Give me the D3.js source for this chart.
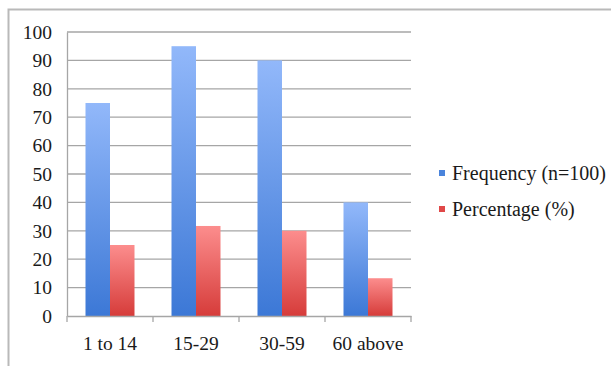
<!DOCTYPE html>
<html><head><meta charset="utf-8">
<script src="https://cdn.jsdelivr.net/npm/d3@7"></script>
<style>body{margin:0;background:#fff;} svg{display:block;}</style>
</head><body>
<svg id="c" width="611" height="366"></svg>
<script>
const categories = ["1 to 14", "15-29", "30-59", "60 above"];
const frequency = [75, 95, 90, 40];
const percentage = [25, 31.7, 30, 13.3];
const seriesNames = ["Frequency (n=100)", "Percentage (%)"];
const yTicks = [0,10,20,30,40,50,60,70,80,90,100];

const svg = d3.select("#c");
const font = "'Liberation Serif', serif";
const L = 67, R = 411, T = 32, B = 316;

// frame
svg.append("path").attr("d", "M8.5,366 V9.5 H611").attr("fill","none").attr("stroke","#b9b9b9").attr("stroke-width",2);

const defs = svg.append("defs");
const gb = defs.append("linearGradient").attr("id","gb").attr("x1",0).attr("y1",0).attr("x2",0).attr("y2",1);
gb.append("stop").attr("offset","0%").attr("stop-color","#92b8fa");
gb.append("stop").attr("offset","100%").attr("stop-color","#3c78d6");
const gr = defs.append("linearGradient").attr("id","gr").attr("x1",0).attr("y1",0).attr("x2",0).attr("y2",1);
gr.append("stop").attr("offset","0%").attr("stop-color","#fc8d8d");
gr.append("stop").attr("offset","100%").attr("stop-color","#d63c3a");

const x = d3.scaleBand().domain(categories).range([L, R]);
const y = d3.scaleLinear().domain([0,100]).range([B, T]);
const bw = 24.5;

// gridlines
svg.append("g").selectAll("line").data(yTicks.filter(d=>d>0)).join("line")
  .attr("x1", L).attr("x2", R).attr("y1", d=>y(d)).attr("y2", d=>y(d))
  .attr("stroke","#a6a6a6").attr("stroke-width",1.3);

// y axis
const ya = svg.append("g").attr("transform",`translate(${L},0)`)
  .call(d3.axisLeft(y).tickValues(yTicks).tickSize(0).tickPadding(15));
ya.select(".domain").attr("stroke","#a6a6a6").attr("stroke-width",1.3);
ya.selectAll("text").attr("font-family",font).attr("font-size",19.5).attr("fill","#1a1a1a");

// bars
const colors = ["url(#gb)", "url(#gr)"];
[frequency, percentage].forEach((vals, si) => {
  svg.append("g").selectAll("rect").data(vals).join("rect")
    .attr("x", (d,i) => x(categories[i]) + x.bandwidth()/2 - bw + si*bw)
    .attr("width", bw)
    .attr("y", d => y(d))
    .attr("height", d => y(0) - y(d))
    .attr("fill", colors[si]);
});

// x axis
const xa = svg.append("g").attr("transform",`translate(0,${B})`)
  .call(d3.axisBottom(x).tickSize(0).tickPadding(20));
xa.select(".domain").attr("stroke","#a6a6a6").attr("stroke-width",1.3);
xa.selectAll("text").attr("font-family",font).attr("font-size",19.5).attr("fill","#1a1a1a");
const bounds = [L].concat(categories.map(c => x(c) + x.bandwidth()));
svg.append("g").selectAll("line").data(bounds).join("line")
  .attr("x1", d=>d).attr("x2", d=>d).attr("y1", B).attr("y2", B+6)
  .attr("stroke","#a6a6a6").attr("stroke-width",1.3);

// legend
const legY = [173, 209];
const legColors = ["#4a84dc", "#e04848"];
seriesNames.forEach((n, i) => {
  svg.append("rect").attr("x",439).attr("y",legY[i]-3).attr("width",6).attr("height",6).attr("fill",legColors[i]);
  svg.append("text").attr("x",452).attr("y",legY[i]).attr("dy","0.35em")
    .attr("font-family",font).attr("font-size",20).attr("fill","#1a1a1a").text(n);
});
</script>
</body></html>
